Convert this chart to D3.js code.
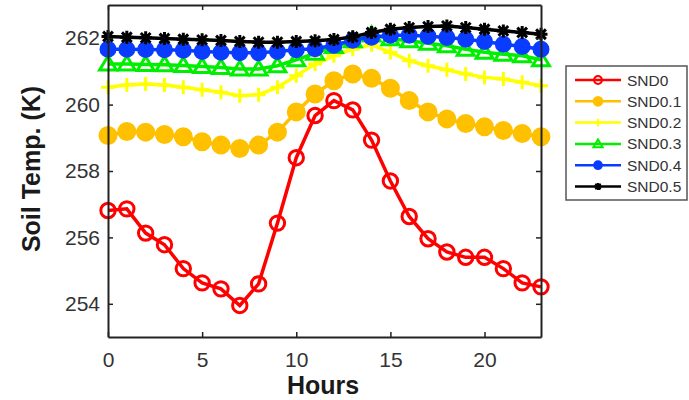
<!DOCTYPE html>
<html>
<head>
<meta charset="utf-8">
<script src="https://cdn.jsdelivr.net/npm/d3@7"></script>
<style>
  body { margin: 0; background: #fff; }
  text { font-family: "Liberation Sans", Arial, sans-serif; }
</style>
</head>
<body>
<svg width="689" height="400"></svg>
<script>
// hours 0..23
const hours = d3.range(0, 24);

const seriesNames = ["SND0", "SND0.1", "SND0.2", "SND0.3", "SND0.4", "SND0.5"];

const snd0 = [256.81, 256.86, 256.13, 255.78, 255.06, 254.63, 254.45, 253.95, 254.60, 256.43, 258.40, 259.67,
              260.12, 259.84, 258.93, 257.70, 256.63, 255.96, 255.56, 255.40, 255.40, 255.06, 254.63, 254.51];
const snd01 = [259.07, 259.19, 259.17, 259.10, 259.03, 258.88, 258.78, 258.68, 258.78, 259.17, 259.78, 260.32,
               260.72, 260.92, 260.79, 260.49, 260.12, 259.78, 259.57, 259.43, 259.33, 259.22, 259.13, 259.03];
const snd02 = [260.52, 260.59, 260.62, 260.59, 260.52, 260.45, 260.37, 260.27, 260.30, 260.52, 260.87, 261.22,
               261.47, 261.67, 261.80, 261.57, 261.32, 261.17, 261.05, 260.92, 260.82, 260.77, 260.67, 260.57];
const snd03 = [261.22, 261.22, 261.21, 261.20, 261.18, 261.15, 261.12, 261.07, 261.07, 261.17, 261.35, 261.55,
               261.75, 261.92, 262.10, 261.98, 261.92, 261.85, 261.77, 261.67, 261.58, 261.52, 261.47, 261.35];
const snd04 = [261.67, 261.67, 261.66, 261.65, 261.64, 261.60, 261.58, 261.56, 261.56, 261.60, 261.65, 261.68,
               261.79, 261.94, 262.03, 262.09, 262.09, 262.06, 262.02, 261.97, 261.90, 261.82, 261.75, 261.67];
const snd05 = [262.05, 262.03, 262.01, 261.99, 261.97, 261.95, 261.93, 261.90, 261.88, 261.88, 261.90, 261.92,
               261.96, 262.04, 262.17, 262.27, 262.32, 262.35, 262.37, 262.32, 262.27, 262.22, 262.17, 262.12];

const xTicks = [0, 5, 10, 15, 20];
const yTicks = [254, 256, 258, 260, 262];

const colors = ["#ff0000", "#ffc000", "#ffff00", "#00ee00", "#0a3cff", "#000000"];
const allSeries = [snd0, snd01, snd02, snd03, snd04, snd05];

const svg = d3.select("svg");
const mLeft = 108, mRight = 541, mTop = 5, mBottom = 337;

const x = d3.scaleLinear().domain([0, 23]).range([mLeft, mRight]);
const y = d3.scaleLinear().domain([253, 263]).range([mBottom, mTop]);

// marker paths
const markerPath = {
  circle: r => d3.symbol(d3.symbolCircle, Math.PI * r * r)(),
  triangle: r => `M0,${-r}L${r * 1.05},${r * 0.75}L${-r * 1.05},${r * 0.75}Z`,
  plus: r => `M${-r},0H${r}M0,${-r}V${r}`,
  star: r => {
    const a = r * 0.75;
    return `M${-r},0H${r}M0,${-r}V${r}M${-a},${-a}L${a},${a}M${-a},${a}L${a},${-a}`;
  }
};
const markers = [
  { type: "circle", r: 7.2, fill: "none" },
  { type: "circle", r: 8, fill: "fill" },
  { type: "plus", r: 7, fill: "none" },
  { type: "triangle", r: 8, fill: "none" },
  { type: "circle", r: 7, fill: "fill" },
  { type: "star", r: 6.5, fill: "none" }
];

function drawMarker(g, m, color, cx, cy, sw) {
  g.append("path")
    .attr("transform", `translate(${cx},${cy})`)
    .attr("d", markerPath[m.type](m.r))
    .attr("fill", m.fill === "fill" ? color : "none")
    .attr("stroke", color)
    .attr("stroke-width", sw);
}

const line = d3.line().x((d, i) => x(hours[i])).y(d => y(d));

allSeries.forEach((vals, k) => {
  const g = svg.append("g");
  g.append("path")
    .attr("d", line(vals))
    .attr("fill", "none")
    .attr("stroke", colors[k])
    .attr("stroke-width", 3.5);
  vals.forEach((v, i) => drawMarker(g, markers[k], colors[k], x(hours[i]), y(v), 3));
});

// axes box with inward ticks
const axisColor = "#222";
const xb = svg.append("g").attr("transform", `translate(0,${mBottom})`)
  .call(d3.axisBottom(x).tickValues(xTicks).tickSizeInner(-5).tickSizeOuter(0).tickPadding(15));
const xt = svg.append("g").attr("transform", `translate(0,${mTop})`)
  .call(d3.axisTop(x).tickValues(xTicks).tickSizeInner(-5).tickSizeOuter(0).tickFormat(""));
const yl = svg.append("g").attr("transform", `translate(${mLeft},0)`)
  .call(d3.axisLeft(y).tickValues(yTicks).tickSizeInner(-5).tickSizeOuter(0).tickPadding(8));
const yr = svg.append("g").attr("transform", `translate(${mRight},0)`)
  .call(d3.axisRight(y).tickValues(yTicks).tickSizeInner(-5).tickSizeOuter(0).tickFormat(""));

[xb, xt, yl, yr].forEach(a => {
  a.select(".domain").attr("stroke", axisColor).attr("stroke-width", 2);
  a.selectAll(".tick line").attr("stroke", axisColor).attr("stroke-width", 1.5);
  a.selectAll(".tick text").attr("fill", "#333").style("font-size", "21px")
    .style("font-family", "'Liberation Sans', Arial, sans-serif");
});

// axis titles
svg.append("text")
  .attr("x", 323).attr("y", 394)
  .attr("text-anchor", "middle")
  .style("font-size", "25px").style("font-weight", "bold").attr("fill", "#1a1a1a")
  .text("Hours");

svg.append("text")
  .attr("transform", `translate(40,169) rotate(-90)`)
  .attr("text-anchor", "middle")
  .style("font-size", "25px").style("font-weight", "bold").attr("fill", "#1a1a1a")
  .text("Soil Temp. (K)");

// legend
const lg = svg.append("g");
lg.append("rect")
  .attr("x", 566).attr("y", 66).attr("width", 121).attr("height", 134)
  .attr("fill", "#fff").attr("stroke", "#555").attr("stroke-width", 1.5);
seriesNames.forEach((name, k) => {
  const ly = 80 + k * 21.3;
  lg.append("line")
    .attr("x1", 575).attr("x2", 621).attr("y1", ly).attr("y2", ly)
    .attr("stroke", colors[k]).attr("stroke-width", 2.5);
  const m = Object.assign({}, markers[k], { r: markers[k].r * 0.55 });
  drawMarker(lg, m, colors[k], 598, ly, 2);
  lg.append("text")
    .attr("x", 627).attr("y", ly + 5.5)
    .style("font-size", "15.5px").attr("fill", "#333")
    .text(name);
});
</script>
</body>
</html>
